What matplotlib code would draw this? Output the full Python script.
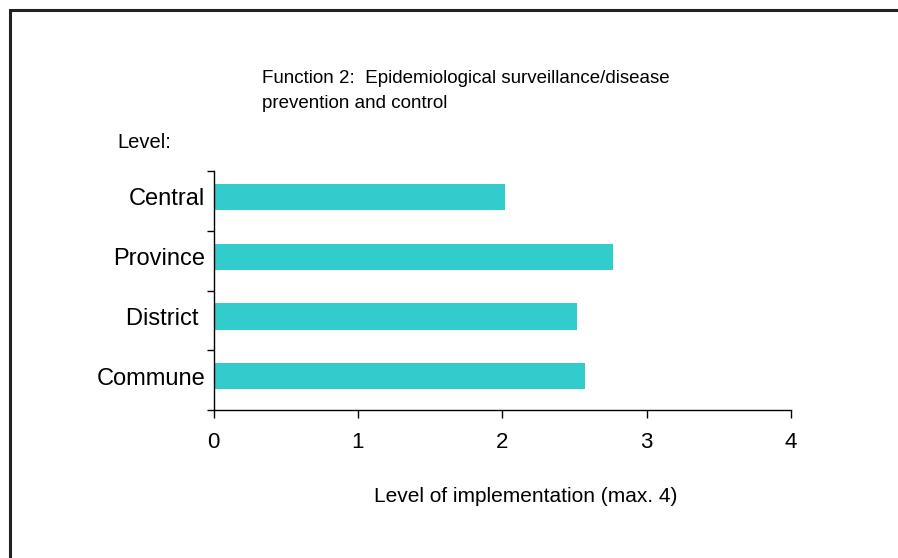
import matplotlib
matplotlib.use("Agg")
import matplotlib.pyplot as plt
import numpy as np
from matplotlib.patches import Rectangle

plt.rcParams['font.family'] = ['Liberation Sans', 'DejaVu Sans']

levels = ['Central', 'Province', 'District ', 'Commune']
scores = [2.02, 2.77, 2.52, 2.57]
x_ticks = [0, 1, 2, 3, 4]

W, H = 898, 558
fig = plt.figure(figsize=(W / 100, H / 100), dpi=100)

# frame round the chart, open at right and bottom
fig.patches.append(Rectangle((9.5 / W, -0.1), 1.2, 1 - 9.5 / H + 0.1,
                             transform=fig.transFigure, fill=False,
                             edgecolor='#222222', linewidth=2.2))

ax = fig.add_axes([213.5 / W, 148 / H, (791 - 213.5) / W, (410 - 171) / H])
pos = np.arange(len(levels))
ax.barh(pos, scores, height=0.44, color='#33CCCC')

off = 0.435
ax.set_ylim(len(levels) - off, -off)
ax.set_xlim(0, 4)

ax.set_yticks(np.arange(len(levels) + 1) - off)
ax.set_yticklabels([])
ax.set_yticks(pos, minor=True)
ax.set_yticklabels(levels, minor=True, fontsize=17)
ax.tick_params(axis='y', which='major', length=5, width=1, direction='out')
ax.tick_params(axis='y', which='minor', length=0, pad=6)

ax.set_xticks(x_ticks)
ax.set_xticklabels([str(t) for t in x_ticks], fontsize=16)
ax.tick_params(axis='x', length=6, width=1, pad=10)

for s in ['top', 'right']:
    ax.spines[s].set_visible(False)
for s in ['left', 'bottom']:
    ax.spines[s].set_linewidth(1)

fig.text(262 / W, 1 - 79 / H, 'Function 2:  Epidemiological surveillance/disease',
         fontsize=13.5, va='center', ha='left')
fig.text(262 / W, 1 - 104 / H, 'prevention and control',
         fontsize=13.5, va='center', ha='left')
fig.text(117 / W, 1 - 143 / H, 'Level:', fontsize=14.5, va='center', ha='left')
fig.text(526 / W, 1 - 496 / H, 'Level of implementation (max. 4)',
         fontsize=15, va='center', ha='center')

fig.savefig('out.png', dpi=100)
